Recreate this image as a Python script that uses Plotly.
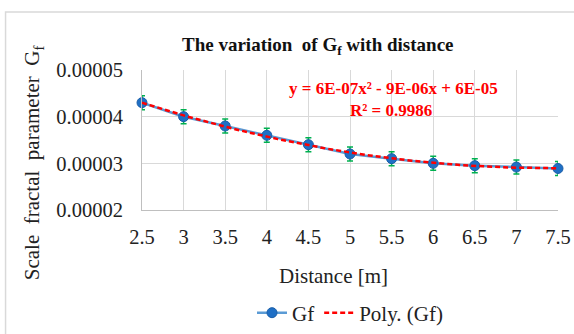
import numpy as np
import plotly.graph_objects as go

# Distance (m) and scale fractal parameter Gf
distance = [2.5, 3, 3.5, 4, 4.5, 5, 5.5, 6, 6.5, 7, 7.5]
gf = [4.30e-5, 4.00e-5, 3.80e-5, 3.60e-5, 3.40e-5, 3.20e-5, 3.10e-5, 3.00e-5, 2.95e-5, 2.92e-5, 2.89e-5]
gf_err = [1.5e-6] * len(gf)

eq_text = "y = 6E-07x² - 9E-06x + 6E-05"
r2_text = "R² = 0.9986"

# second-order polynomial trendline of the series
coef = np.polyfit(distance, gf, 2)
x_fit = np.linspace(distance[0], distance[-1], 200)
y_fit = np.polyval(coef, x_fit)

serif = "Liberation Serif"
txt = "#222222"

fig = go.Figure()
fig.add_trace(go.Scatter(
    x=distance, y=gf, name="Gf", mode="lines+markers",
    line=dict(color="#5B9BD5", width=2.5),
    marker=dict(size=10, color="#1F6FC5", line=dict(color="#1A5EA8", width=1)),
    error_y=dict(type="data", array=gf_err, color="#00B050", thickness=1.5, width=3),
    cliponaxis=False,
))
fig.add_trace(go.Scatter(
    x=x_fit, y=y_fit, name="Poly. (Gf)", mode="lines",
    line=dict(color="#FF0000", width=2.5, dash="5px,3px"),
    cliponaxis=False,
))

fig.update_layout(
    width=574, height=334,
    margin=dict(l=142, r=16, t=70, b=124, autoexpand=False),
    paper_bgcolor="white", plot_bgcolor="white",
    font=dict(family=serif, size=20, color=txt),
    showlegend=True,
    legend=dict(orientation="h", x=0.5, xanchor="center", y=-0.736, yanchor="middle",
                font=dict(family=serif, size=21, color=txt), itemwidth=30),
    xaxis=dict(range=[2.5, 7.5], tickvals=distance, ticktext=[str(d) for d in distance],
               showgrid=True, gridcolor="#D9D9D9", gridwidth=1,
               showline=True, linecolor="#BFBFBF", ticks="", zeroline=False,
               tickfont=dict(family=serif, size=20.5, color=txt), ticklabelstandoff=8),
    yaxis=dict(range=[2e-5, 5e-5], dtick=1e-5, tickformat=".5f",
               showgrid=True, gridcolor="#D9D9D9", gridwidth=1,
               showline=True, linecolor="#BFBFBF", ticks="", zeroline=False,
               tickfont=dict(family=serif, size=20.5, color=txt), ticklabelstandoff=14),
    shapes=[dict(type="rect", xref="paper", yref="paper",
                 x0=-0.328, x1=1.05, y0=-0.94, y1=1.414,
                 line=dict(color="#D9D9D9", width=1.5))],
    annotations=[
        dict(text="<b>The variation  of G<sub>f</sub> with distance</b>",
             xref="paper", yref="paper", x=0.424, y=1.171, xanchor="center", yanchor="middle",
             showarrow=False, font=dict(family=serif, size=19, color="#111111")),
        dict(text="Scale  fractal  parameter  G<sub>f</sub>", textangle=-90,
             xref="paper", yref="paper", x=-0.26, y=0.34, xanchor="center", yanchor="middle",
             showarrow=False, font=dict(family=serif, size=21, color=txt)),
        dict(text="Distance [m]", xref="paper", yref="paper", x=0.46, y=-0.47,
             xanchor="center", yanchor="middle",
             showarrow=False, font=dict(family=serif, size=21, color=txt)),
        dict(text="<b>" + eq_text + "</b>", xref="paper", yref="paper",
             x=0.6035, y=0.871, xanchor="center", yanchor="middle",
             showarrow=False, font=dict(family=serif, size=17, color="#FF0000")),
        dict(text="<b>" + r2_text + "</b>", xref="paper", yref="paper",
             x=0.5996, y=0.714, xanchor="center", yanchor="middle",
             showarrow=False, font=dict(family=serif, size=17, color="#FF0000")),
    ],
)

fig.write_html("out.html")
